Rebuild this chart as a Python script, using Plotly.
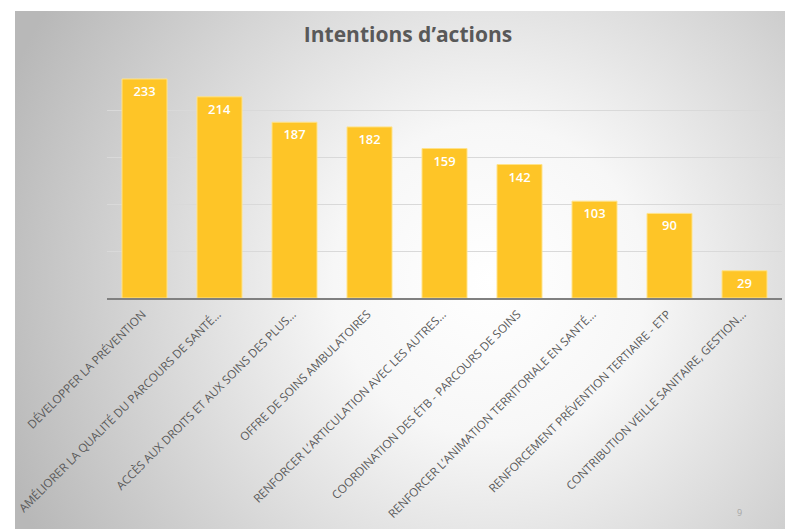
import base64
import plotly.graph_objects as go

categories = [
    "DÉVELOPPER LA PRÉVENTION",
    "AMÉLIORER LA QUALITÉ DU PARCOURS DE SANTÉ…",
    "ACCÈS AUX DROITS ET AUX SOINS DES PLUS…",
    "OFFRE DE SOINS AMBULATOIRES",
    "RENFORCER L’ARTICULATION AVEC LES AUTRES…",
    "COORDINATION DES ÉTB - PARCOURS DE SOINS",
    "RENFORCER L’ANIMATION TERRITORIALE EN SANTÉ…",
    "RENFORCEMENT PRÉVENTION TERTIAIRE - ETP",
    "CONTRIBUTION VEILLE SANITAIRE, GESTION…",
]
values = [233, 214, 187, 182, 159, 142, 103, 90, 29]
title_text = "Intentions d’actions"
page_number = "9"

W, H = 785, 529
ML, MR, MT, MB = 107, 3, 63, 231
PW, PH = W - ML - MR, H - MT - MB

# background slide with radial gradient
BX0, BY0 = 15, 11
BW, BH = W - BX0, H - BY0
svg = f'''<svg xmlns="http://www.w3.org/2000/svg" width="{BW}" height="{BH}" viewBox="0 0 {BW} {BH}" preserveAspectRatio="none">
<defs><radialGradient id="g" gradientUnits="userSpaceOnUse" cx="{490-BX0}" cy="{280-BY0}" r="520">
<stop offset="0" stop-color="#ffffff"/>
<stop offset="0.3" stop-color="#f7f7f7"/>
<stop offset="1" stop-color="#b8b8b8"/>
</radialGradient></defs>
<rect x="0" y="0" width="{BW}" height="{BH}" fill="url(#g)"/>
</svg>'''
src = "data:image/svg+xml;base64," + base64.b64encode(svg.encode()).decode()

fig = go.Figure()
fig.add_trace(go.Bar(
    x=categories, y=values,
    marker=dict(color="#FEC527", line=dict(color="#FFE38A", width=1)),
    text=[str(v) for v in values],
    textposition="inside", insidetextanchor="end", textangle=0,
    textfont=dict(color="white", size=13, family="Open Sans SemiBold, Open Sans"),
    constraintext="none",
    cliponaxis=False,
))

fig.update_layout(
    width=W, height=H,
    margin=dict(l=ML, r=MR, t=MT, b=MB, autoexpand=False),
    paper_bgcolor="white", plot_bgcolor="rgba(0,0,0,0)",
    bargap=0.4, showlegend=False,
    title=dict(text=f"<b>{title_text}</b>", x=408 / W, xref="container", xanchor="center",
               y=1 - 35 / H, yref="container", yanchor="middle",
               font=dict(family="Open Sans", size=21, color="#595959")),
    font=dict(family="Open Sans", color="#595959"),
    images=[dict(source=src, xref="paper", yref="paper",
                 x=(BX0 - ML) / PW, y=1 + (MT - BY0) / PH,
                 sizex=BW / PW, sizey=BH / PH, xanchor="left", yanchor="top",
                 sizing="stretch", layer="below")],
    annotations=[dict(text=page_number, xref="paper", yref="paper",
                      x=(739 - ML) / PW, y=-(512 - (MT + PH)) / PH,
                      showarrow=False, xanchor="center", yanchor="middle",
                      font=dict(size=9, color="#a6a6a6"))],
)
fig.update_xaxes(tickangle=-45, tickfont=dict(size=11.7, color="#595959"),
                 showline=True, linecolor="#808080", linewidth=2,
                 ticks="", automargin=False, ticklabelshift=-2, ticklabelstandoff=3)
fig.update_yaxes(range=[0, 250], dtick=50, showticklabels=False,
                 gridcolor="#d9d9d9", gridwidth=1, zeroline=False, automargin=False)

fig.write_html("out.html", config={"displayModeBar": False},
               post_script="document.body.style.margin='0';")
